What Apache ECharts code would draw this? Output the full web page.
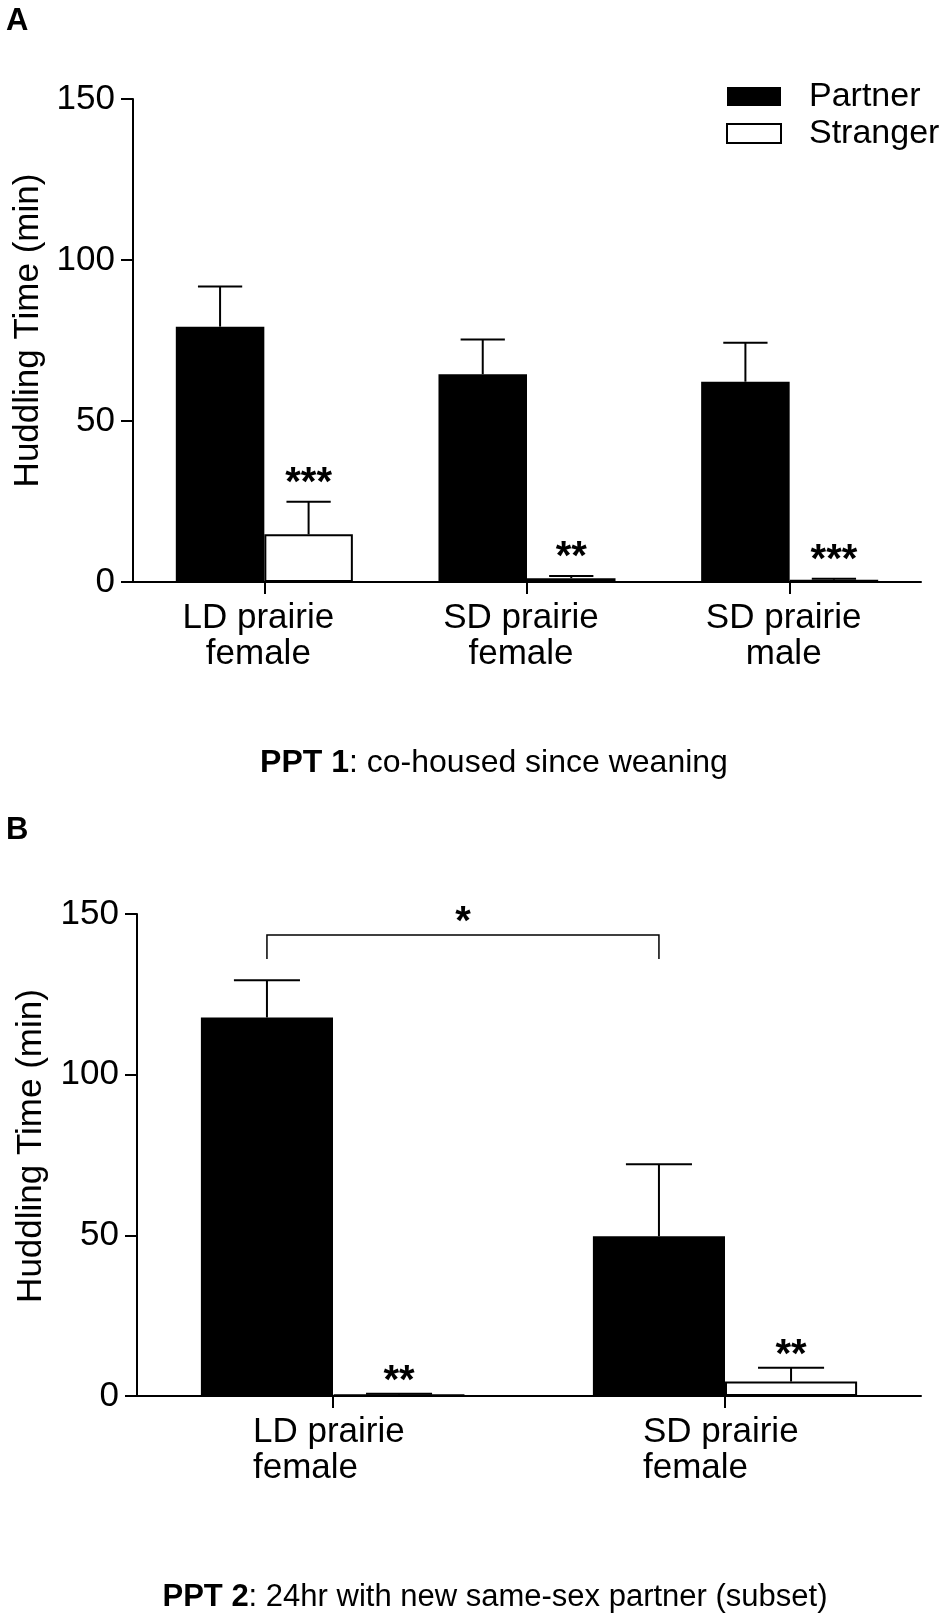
<!DOCTYPE html>
<html>
<head>
<meta charset="utf-8">
<script src="https://cdn.jsdelivr.net/npm/echarts@6/dist/echarts.min.js"></script>
<style>
  html, body { margin: 0; padding: 0; background: #fff; }
  #chart { width: 952px; height: 1618px; }
</style>
</head>
<body>
<div id="chart"></div>
<script>
// ---------- data ----------
const categoriesA = ['LD prairie\nfemale', 'SD prairie\nfemale', 'SD prairie\nmale'];
const partnerA = [79.3, 64.5, 62.2];
const partnerErrA = [12.5, 10.8, 12.1];
const strangerA = [14.8, 1.2, 0.7];
const strangerErrA = [10.1, 0.7, 0.3];
const sigA = ['***', '**', '***'];

const categoriesB = ['LD prairie\nfemale', 'SD prairie\nfemale'];
const partnerB = [117.8, 49.7];
const partnerErrB = [11.6, 22.4];
const strangerB = [0.4, 4.5];
const strangerErrB = [0.3, 4.3];
const sigB = ['**', '**'];
// bracket between partner bars of category 0 and 1: [from, to, level, drop, mark]
const bracketB = [[0, 1, 143.5, 136, '*']];

const yTicks = [0, 50, 100, 150];
const seriesNames = ['Partner', 'Stranger'];
const yTitle = 'Huddling Time (min)';
const panelLabels = ['A', 'B'];
const subtitleA = ['PPT 1', ': co-housed since weaning'];
const subtitleB = ['PPT 2', ': 24hr with new same-sex partner (subset)'];

// ---------- helpers ----------
const FONT = "'Liberation Sans', Arial, Helvetica, sans-serif";
const GAP = 0.326;
const LABEL_SIZE = 35;

const measureCtx = document.createElement('canvas').getContext('2d');
function textWidth(t) {
  measureCtx.font = LABEL_SIZE + 'px ' + FONT;
  return measureCtx.measureText(t).width;
}

function errData(vals, errs, side) {
  return vals.map((v, i) => [i, v, errs[i], side]);
}
function sigData(vals, errs, sig) {
  return vals.map((v, i) => [i, v + errs[i], sig[i]]);
}

function renderErr(params, api) {
  const ci = api.value(0), v = api.value(1), e = api.value(2), side = api.value(3);
  const base = api.coord([ci, v]);
  const top = api.coord([ci, v + e]);
  const band = api.size([1, 0])[0];
  const bw = band * (1 - GAP) / 2;
  const cx = base[0] + (side ? bw / 2 : -bw / 2);
  const cap = bw / 4;
  const st = { stroke: '#000', lineWidth: 2 };
  return {
    type: 'group',
    children: [
      { type: 'line', shape: { x1: cx, y1: base[1], x2: cx, y2: top[1] }, style: st },
      { type: 'line', shape: { x1: cx - cap, y1: top[1], x2: cx + cap, y2: top[1] }, style: st }
    ]
  };
}

function makeSigRender(offset) {
  return function (params, api) {
    const ci = api.value(0), t = api.value(1);
    const p = api.coord([ci, t]);
    const band = api.size([1, 0])[0];
    const bw = band * (1 - GAP) / 2;
    const cx = p[0] + bw / 2;
    return {
      type: 'text',
      x: cx, y: p[1] - offset,
      style: {
        text: api.value(2),
        fill: '#000',
        font: 'bold 40px ' + FONT,
        align: 'center', verticalAlign: 'middle',
        textAlign: 'center', textVerticalAlign: 'middle'
      }
    };
  };
}

function renderBracket(params, api) {
  const a = api.value(0), b = api.value(1), lvl = api.value(2), drop = api.value(3);
  const band = api.size([1, 0])[0];
  const bw = band * (1 - GAP) / 2;
  const p1 = api.coord([a, lvl]);
  const p2 = api.coord([b, lvl]);
  const d = api.coord([a, drop]);
  const x1 = p1[0] - bw / 2, x2 = p2[0] - bw / 2;
  const st = { stroke: '#000', lineWidth: 1.5, fill: null };
  return {
    type: 'group',
    children: [
      { type: 'polyline', shape: { points: [[x1, d[1]], [x1, p1[1]], [x2, p1[1]], [x2, d[1]]] }, style: st },
      {
        type: 'text', x: (x1 + x2) / 2, y: p1[1] - 12,
        style: {
          text: api.value(4), fill: '#000', font: 'bold 40px ' + FONT,
          align: 'center', verticalAlign: 'middle',
          textAlign: 'center', textVerticalAlign: 'middle'
        }
      }
    ]
  };
}

function yAxisCfg(gridIndex, gap, pad) {
  return {
    type: 'value', gridIndex: gridIndex,
    min: yTicks[0], max: yTicks[yTicks.length - 1], interval: yTicks[1] - yTicks[0],
    name: yTitle, nameLocation: 'middle', nameGap: gap,
    nameTextStyle: { fontSize: 35, fontFamily: FONT, color: '#000', padding: pad },
    axisLine: { show: true, lineStyle: { color: '#000', width: 2 } },
    axisTick: { show: true, inside: false, length: 12, lineStyle: { color: '#000', width: 2 } },
    axisLabel: { fontSize: 35, fontFamily: FONT, color: '#000', margin: 18 },
    splitLine: { show: false }
  };
}
function xAxisCfg(gridIndex, cats, leftAlignLines, pad) {
  const label = {
    fontSize: LABEL_SIZE, fontFamily: FONT, color: '#000', margin: 18, lineHeight: 36,
    interval: 0, padding: pad
  };
  if (leftAlignLines) {
    // lines left-aligned inside a block centred on the tick
    label.formatter = function (v) {
      const lines = v.split('\n');
      return lines.map(l => '{l' + Math.round(textWidth(lines[0])) + '|' + l + '}').join('\n');
    };
    const rich = {};
    cats.forEach(c => {
      const w = Math.round(textWidth(c.split('\n')[0]));
      rich['l' + w] = { width: w, align: 'left', fontSize: LABEL_SIZE, fontFamily: FONT, color: '#000', lineHeight: 36 };
    });
    label.rich = rich;
  }
  return {
    type: 'category', gridIndex: gridIndex, data: cats,
    axisLine: { show: true, lineStyle: { color: '#000', width: 2 } },
    axisTick: { show: true, alignWithLabel: true, length: 12, lineStyle: { color: '#000', width: 2 } },
    axisLabel: label,
    splitLine: { show: false }
  };
}

const partnerStyle = { color: '#000' };
const strangerStyle = { color: '#fff', borderColor: '#000', borderWidth: 2 };

const chart = echarts.init(document.getElementById('chart'), null, { renderer: 'canvas' });
chart.setOption({
  backgroundColor: '#fff',
  animation: false,
  legend: {
    orient: 'vertical', left: 726, top: 78, padding: 0, itemGap: 0,
    itemWidth: 54, itemHeight: 19, icon: 'rect',
    selectedMode: false,
    textStyle: { fontSize: 34, fontFamily: FONT, color: '#000', lineHeight: 37, padding: [0, 0, 0, 23] },
    data: [
      { name: seriesNames[0], itemStyle: partnerStyle },
      { name: seriesNames[1], itemStyle: strangerStyle }
    ]
  },
  grid: [
    { left: 133, top: 99, width: 788, height: 483 },
    { left: 137, top: 914, width: 784, height: 482 }
  ],
  xAxis: [xAxisCfg(0, categoriesA, false, [0, 12, 0, 0]), xAxisCfg(1, categoriesB, true, [0, 8, 0, 0])],
  yAxis: [yAxisCfg(0, 84, [0, 0, 0, 20]), yAxisCfg(1, 88, [0, 0, 0, 18])],
  series: [
    { name: seriesNames[0], type: 'bar', xAxisIndex: 0, yAxisIndex: 0, data: partnerA,
      barGap: '0%', barCategoryGap: (GAP * 100) + '%', itemStyle: partnerStyle },
    { name: seriesNames[1], type: 'bar', xAxisIndex: 0, yAxisIndex: 0, data: strangerA,
      barGap: '0%', barCategoryGap: (GAP * 100) + '%', itemStyle: strangerStyle },
    { name: seriesNames[0], type: 'bar', xAxisIndex: 1, yAxisIndex: 1, data: partnerB,
      barGap: '0%', barCategoryGap: (GAP * 100) + '%', itemStyle: partnerStyle },
    { name: seriesNames[1], type: 'bar', xAxisIndex: 1, yAxisIndex: 1, data: strangerB,
      barGap: '0%', barCategoryGap: (GAP * 100) + '%', itemStyle: strangerStyle },
    { name: 'errA', type: 'custom', xAxisIndex: 0, yAxisIndex: 0, renderItem: renderErr,
      data: errData(partnerA, partnerErrA, 0).concat(errData(strangerA, strangerErrA, 1)), z: 3 },
    { name: 'errB', type: 'custom', xAxisIndex: 1, yAxisIndex: 1, renderItem: renderErr,
      data: errData(partnerB, partnerErrB, 0).concat(errData(strangerB, strangerErrB, 1)), z: 3 },
    { name: 'sigA', type: 'custom', xAxisIndex: 0, yAxisIndex: 0, renderItem: makeSigRender(18),
      data: sigData(strangerA, strangerErrA, sigA), z: 4 },
    { name: 'sigB', type: 'custom', xAxisIndex: 1, yAxisIndex: 1, renderItem: makeSigRender(12),
      data: sigData(strangerB, strangerErrB, sigB), z: 4 },
    { name: 'bracketB', type: 'custom', xAxisIndex: 1, yAxisIndex: 1, renderItem: renderBracket,
      data: bracketB, clip: false, z: 4 }
  ],
  graphic: [
    { type: 'text', x: 6, y: 21, style: { text: panelLabels[0], font: 'bold 31px ' + FONT, fill: '#000', verticalAlign: 'middle', textVerticalAlign: 'middle' } },
    { type: 'text', x: 6, y: 830, style: { text: panelLabels[1], font: 'bold 31px ' + FONT, fill: '#000', verticalAlign: 'middle', textVerticalAlign: 'middle' } },
    { type: 'text', x: 494, y: 763, style: {
        text: '{b|' + subtitleA[0] + '}{n|' + subtitleA[1] + '}',
        align: 'center', verticalAlign: 'middle', textAlign: 'center', textVerticalAlign: 'middle',
        rich: { b: { fontWeight: 'bold', fontSize: 32, fontFamily: FONT, fill: '#000', color: '#000' },
                n: { fontSize: 32, fontFamily: FONT, fill: '#000', color: '#000' } } } },
    { type: 'text', x: 495, y: 1597, style: {
        text: '{b|' + subtitleB[0] + '}{n|' + subtitleB[1] + '}',
        align: 'center', verticalAlign: 'middle', textAlign: 'center', textVerticalAlign: 'middle',
        rich: { b: { fontWeight: 'bold', fontSize: 31, fontFamily: FONT, fill: '#000', color: '#000' },
                n: { fontSize: 31, fontFamily: FONT, fill: '#000', color: '#000' } } } }
  ]
});
</script>
</body>
</html>
